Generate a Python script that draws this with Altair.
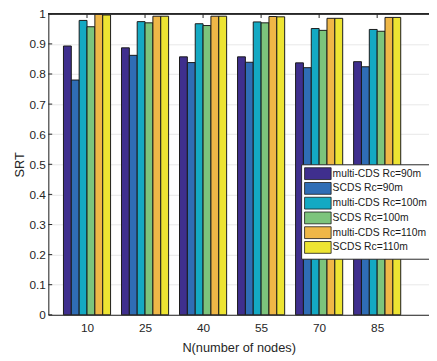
import altair as alt
import pandas as pd

N_VALUES = [10, 25, 40, 55, 70, 85]
SERIES = ["multi-CDS Rc=90m", "SCDS Rc=90m", "multi-CDS Rc=100m",
          "SCDS Rc=100m", "multi-CDS Rc=110m", "SCDS Rc=110m"]
MULTI_90 = [0.893, 0.887, 0.857, 0.857, 0.837, 0.841]
SCDS_90 = [0.780, 0.862, 0.838, 0.839, 0.821, 0.824]
MULTI_100 = [0.978, 0.974, 0.967, 0.973, 0.951, 0.948]
SCDS_100 = [0.957, 0.970, 0.961, 0.970, 0.945, 0.942]
MULTI_110 = [0.999, 0.992, 0.992, 0.991, 0.985, 0.988]
SCDS_110 = [0.996, 0.992, 0.992, 0.990, 0.985, 0.988]
COLORS = ["#3F2F8E", "#2F6DB5", "#14A9C3", "#7CC47C", "#EFB747", "#EDE432"]
Y_TICKS = [0, 0.1, 0.2, 0.3, 0.4, 0.5, 0.6, 0.7, 0.8, 0.9, 1]

ALL = [MULTI_90, SCDS_90, MULTI_100, SCDS_100, MULTI_110, SCDS_110]
rows = []
for i, (name, vals) in enumerate(zip(SERIES, ALL)):
    for n, v in zip(N_VALUES, vals):
        rows.append({"N": n, "series": name, "idx": i, "SRT": v})
df = pd.DataFrame(rows)

W = 2.03        # bar width in x units
XMAX = 98.4
FONT = "Liberation Sans"
AX = "#262626"

xscale = alt.Scale(domain=[0, XMAX], nice=False, zero=False)
yscale = alt.Scale(domain=[0, 1], nice=False)

xaxis = alt.Axis(values=N_VALUES, title="N(number of nodes)", grid=False,
                 tickSize=0, labelPadding=8, titlePadding=8, labelOverlap=False,
                 labelFontSize=12, titleFontSize=13, titleFontWeight="normal",
                 domainColor=AX, labelColor=AX, titleColor=AX,
                 labelFont=FONT, titleFont=FONT)
yaxis = alt.Axis(values=Y_TICKS, title="SRT", grid=True, gridColor="#e2e2e2",
                 gridWidth=0.8, tickSize=0, labelPadding=3, titlePadding=3,
                 labelOverlap=False,
                 labelFontSize=12, titleFontSize=13, titleFontWeight="normal",
                 domainColor=AX, labelColor=AX, titleColor=AX,
                 labelFont=FONT, titleFont=FONT,
                 labelExpr="datum.value == 0 ? '0' : datum.value == 1 ? '1' : format(datum.value, '.1f')")

bars = alt.Chart(df).transform_calculate(
    x0=f"datum.N + (datum.idx - 3) * {W}",
    x1=f"datum.N + (datum.idx - 2) * {W}",
).mark_bar(stroke="#1a1a1a", strokeWidth=1, opacity=1).encode(
    x=alt.X("x0:Q", scale=xscale, axis=xaxis),
    x2="x1:Q",
    y=alt.Y("SRT:Q", scale=yscale, stack=None, axis=yaxis),
    y2=alt.datum(0),
    color=alt.Color("series:N", sort=SERIES,
                    scale=alt.Scale(domain=SERIES, range=COLORS),
                    legend=alt.Legend(title=None, orient="none", legendX=257, legendY=153,
                                      symbolType="M-1,-1H3.5V1H-1Z", symbolSize=144,
                                      symbolStrokeColor="#1a1a1a", symbolStrokeWidth=0.8,
                                      symbolOpacity=1,
                                      labelOffset=16, rowPadding=-2, padding=3,
                                      labelFontSize=10.5, labelFont=FONT, labelColor="#1a1a1a",
                                      strokeColor=AX, fillColor="white")),
)

ydf = pd.DataFrame({"v": Y_TICKS})
ytick_rules = alt.Chart(ydf).mark_rule(color=AX, strokeWidth=1).encode(
    y=alt.Y("v:Q", scale=yscale, axis=yaxis),
    x=alt.XDatum(0, scale=xscale, axis=xaxis),
    x2=alt.datum(1.0),
)

ndf = pd.DataFrame({"N": N_VALUES})
top_ticks = alt.Chart(ndf).mark_rule(color=AX, strokeWidth=1).encode(
    x=alt.X("N:Q", scale=xscale, axis=xaxis),
    y=alt.YDatum(1, scale=yscale, axis=yaxis),
    y2=alt.datum(0.986),
)

border = alt.Chart(ndf).mark_rule(color=AX, strokeWidth=1).encode(
    y=alt.YDatum(1, scale=yscale, axis=yaxis),
    x=alt.XDatum(0, scale=xscale, axis=xaxis),
    x2=alt.datum(XMAX),
)

chart = alt.layer(ytick_rules, top_ticks, bars, border).properties(
    width=387, height=306,
    autosize=alt.AutoSizeParams(type="none"),
    padding={"left": 41, "top": 3, "right": 0, "bottom": 40},
).configure_view(stroke=None).configure(font=FONT, background="white")

chart.save("out.html", embed_options={"renderer": "svg", "actions": False})
